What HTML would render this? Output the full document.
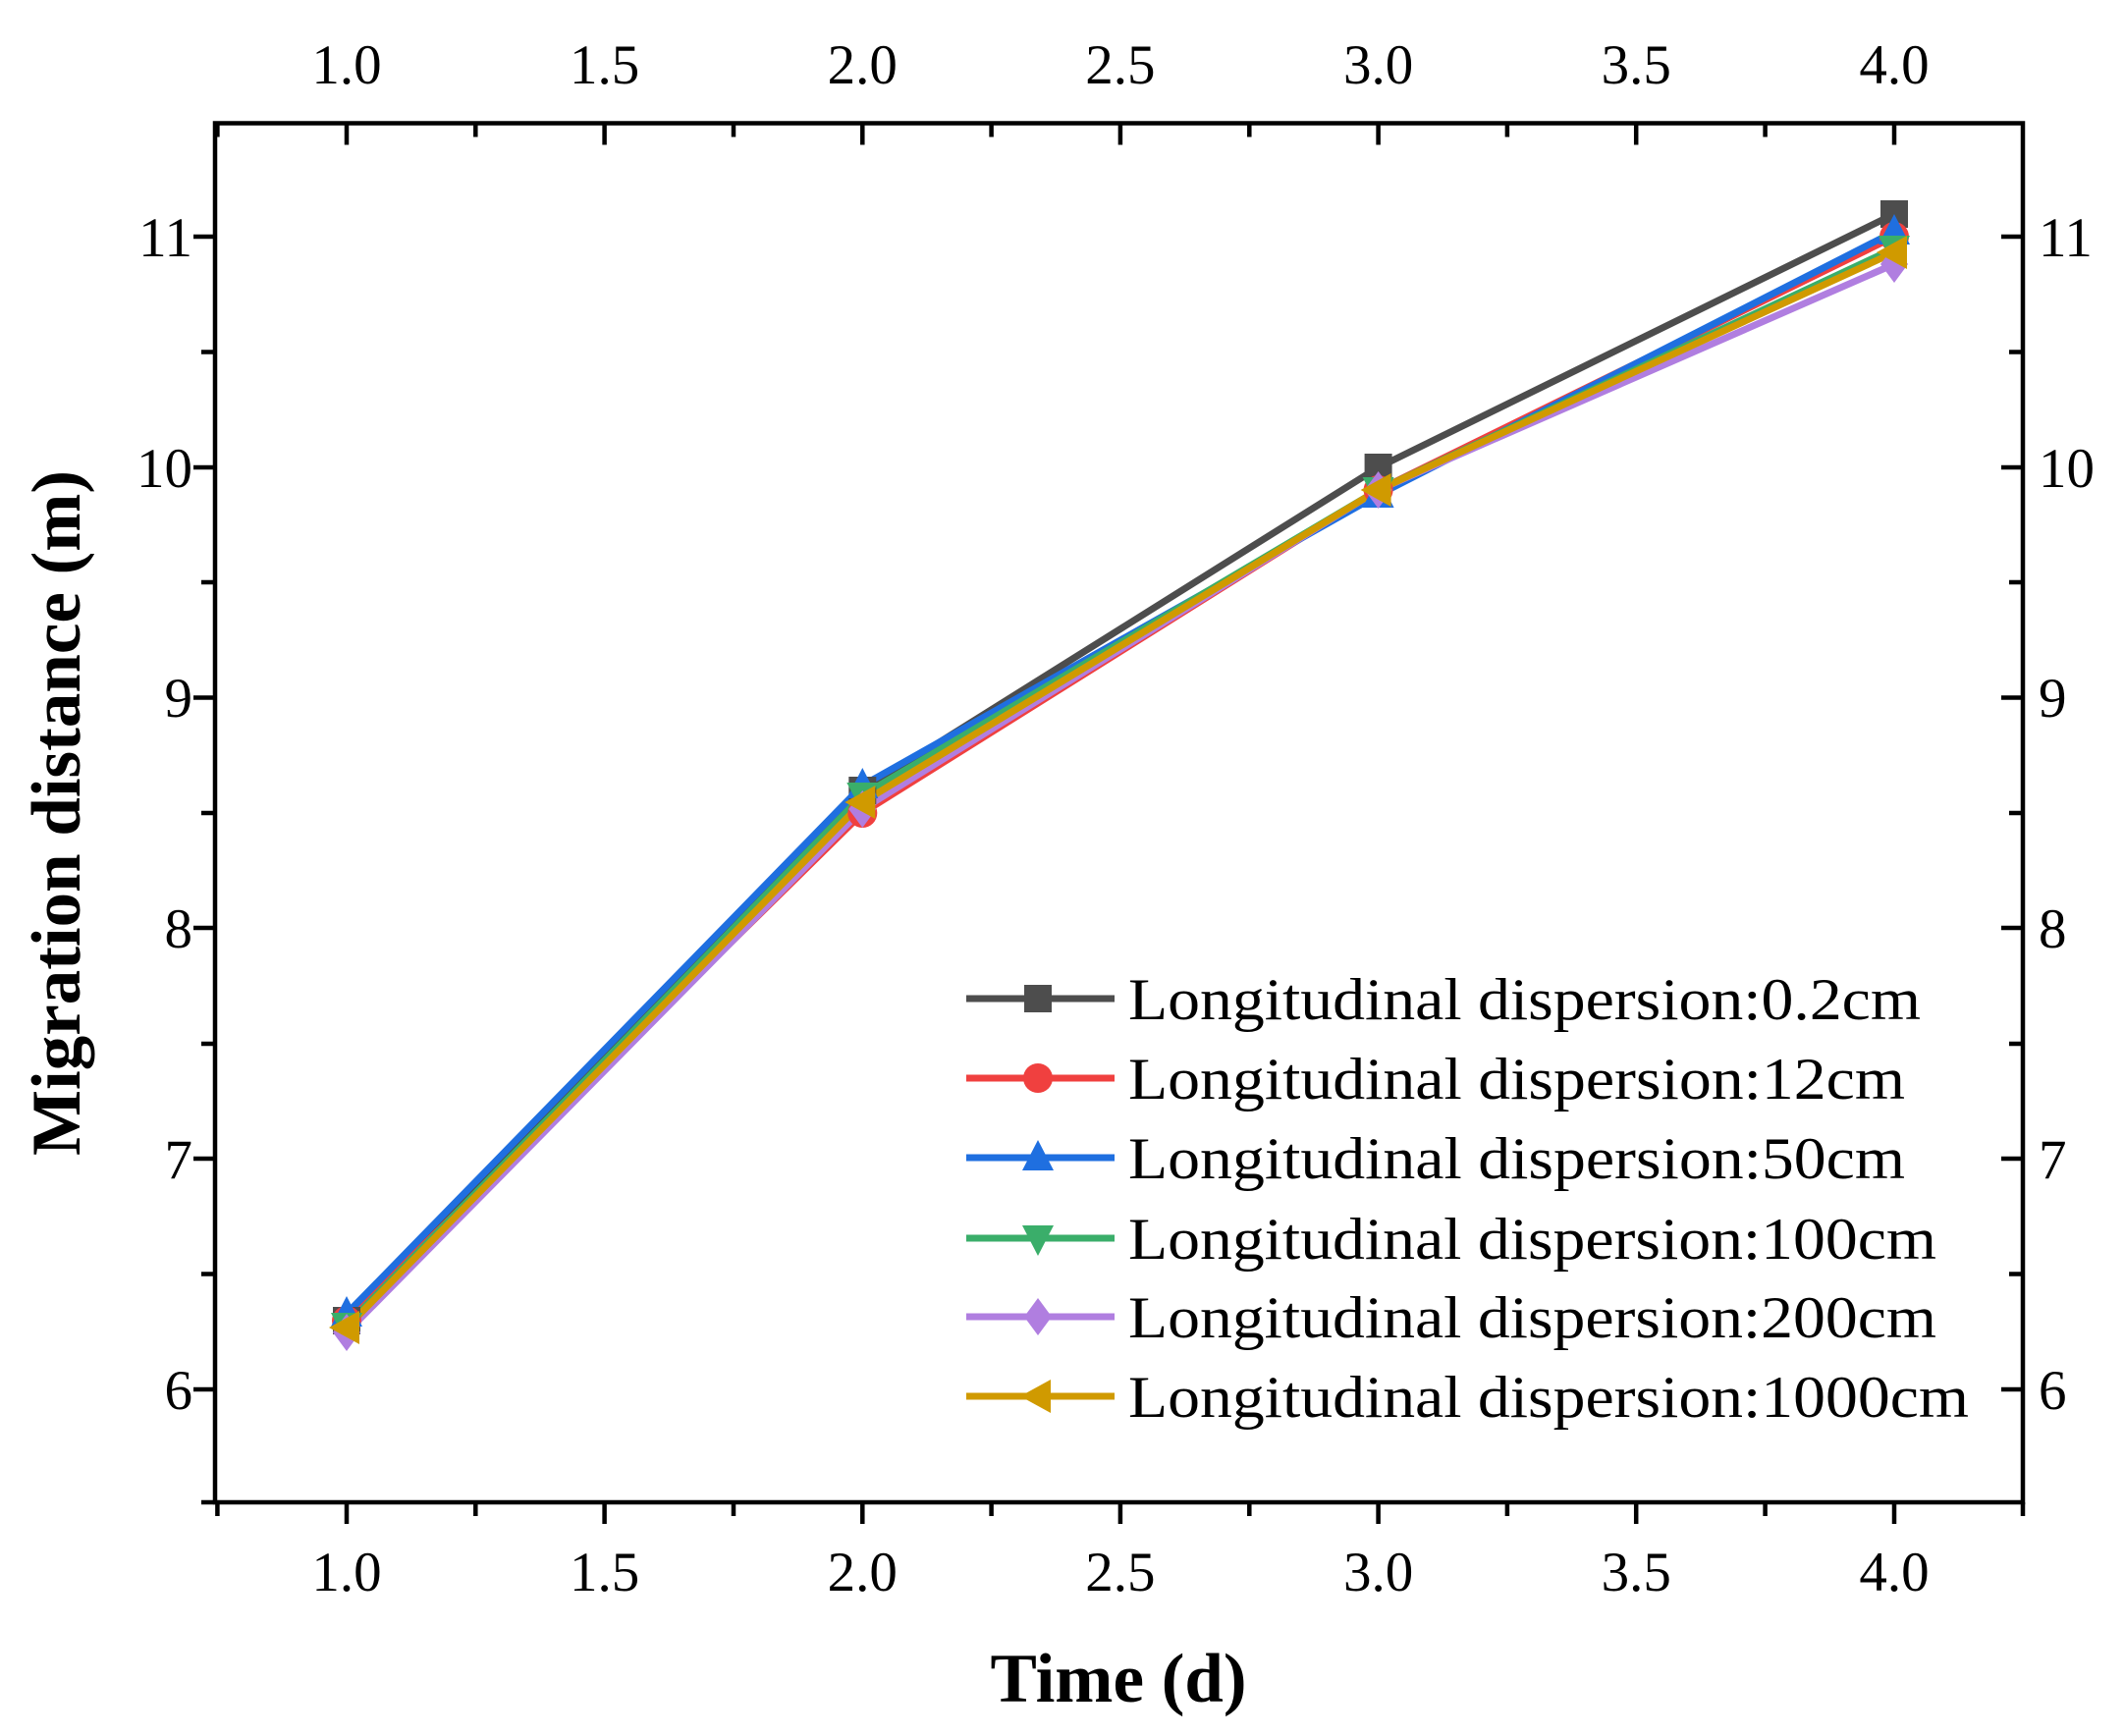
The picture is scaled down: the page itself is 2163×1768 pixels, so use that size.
<!DOCTYPE html>
<html><head><meta charset="utf-8"><style>html,body{margin:0;padding:0;background:#fff}svg{display:block}</style></head>
<body>
<svg width="2163" height="1768" viewBox="0 0 2163 1768" xmlns="http://www.w3.org/2000/svg" font-family="Liberation Serif, serif">
<rect width="2163" height="1768" fill="#fff"/>
<defs>
<clipPath id="c"><rect x="219" y="125" width="1841" height="1405"/></clipPath>
<g id="sq"><rect x="-14" y="-14" width="28" height="28"/></g>
<g id="ci"><circle r="15"/></g>
<g id="tu"><polygon points="0,-18 16,13 -16,13"/></g>
<g id="td"><polygon points="0,18 16,-13 -16,-13"/></g>
<g id="di"><polygon points="0,-19 14,0 0,19 -14,0"/></g>
<g id="tl"><polygon points="-18,0 13,-17 13,17"/></g>
</defs>
<g stroke="#000" stroke-width="4.5" fill="none">
<rect x="219" y="125.5" width="1841" height="1404.5"/>
</g>
<g stroke="#000" stroke-width="4.5">
<path d="M353,1530v22M615.6,1530v22M878.3,1530v22M1140.9,1530v22M1403.6,1530v22M1666.2,1530v22M1929,1530v22"/>
<path d="M353,125.5v22M615.6,125.5v22M878.3,125.5v22M1140.9,125.5v22M1403.6,125.5v22M1666.2,125.5v22M1929,125.5v22"/>
<path d="M221.4,1530v14M484.3,1530v14M747,1530v14M1009.6,1530v14M1272.3,1530v14M1534.9,1530v14M1797.6,1530v14M2060,1530v14"/>
<path d="M221.4,125.5v14M484.3,125.5v14M747,125.5v14M1009.6,125.5v14M1272.3,125.5v14M1534.9,125.5v14M1797.6,125.5v14"/>
<path d="M219,241h-22M219,476h-22M219,710.5h-22M219,945h-22M219,1180h-22M219,1415h-22"/>
<path d="M2060,241h-22M2060,476h-22M2060,710.5h-22M2060,945h-22M2060,1180h-22M2060,1415h-22"/>
<path d="M219,358.5h-14M219,593h-14M219,828h-14M219,1063h-14M219,1297.5h-14M219,1530h-14"/>
<path d="M2060,358.5h-14M2060,593h-14M2060,828h-14M2060,1063h-14M2060,1297.5h-14"/>
</g>
<g font-size="57" fill="#000" text-anchor="middle">
<text x="353" y="1620">1.0</text><text x="615.6" y="1620">1.5</text><text x="878.3" y="1620">2.0</text><text x="1140.9" y="1620">2.5</text><text x="1403.6" y="1620">3.0</text><text x="1666.2" y="1620">3.5</text><text x="1929" y="1620">4.0</text>
<text x="353" y="85">1.0</text><text x="615.6" y="85">1.5</text><text x="878.3" y="85">2.0</text><text x="1140.9" y="85">2.5</text><text x="1403.6" y="85">3.0</text><text x="1666.2" y="85">3.5</text><text x="1929" y="85">4.0</text>
</g>
<g font-size="57" fill="#000" text-anchor="end">
<text x="196" y="261">11</text><text x="196" y="496">10</text><text x="196" y="730">9</text><text x="196" y="965">8</text><text x="196" y="1200">7</text><text x="196" y="1435">6</text>
</g>
<g font-size="57" fill="#000" text-anchor="start">
<text x="2076" y="261">11</text><text x="2076" y="496">10</text><text x="2076" y="730">9</text><text x="2076" y="965">8</text><text x="2076" y="1200">7</text><text x="2076" y="1435">6</text>
</g>
<text x="1139" y="1733" font-size="71" font-weight="bold" text-anchor="middle">Time (d)</text>
<text transform="translate(81,828) rotate(-90)" font-size="71" font-weight="bold" text-anchor="middle">Migration distance (m)</text>
<g clip-path="url(#c)" fill="none" stroke-width="7" stroke-linejoin="round">
<polyline stroke="#4d4d4d" points="353,1345 878.3,805 1403.6,476 1929,218"/>
<polyline stroke="#f0403f" points="353,1345 878.3,828 1403.6,499 1929,241"/>
<polyline stroke="#1f6fe0" points="353,1338 878.3,800 1403.6,504 1929,236"/>
<polyline stroke="#3aae6a" points="353,1350 878.3,810 1403.6,499 1929,253"/>
<polyline stroke="#b07ee0" points="353,1357 878.3,824 1403.6,499 1929,269"/>
<polyline stroke="#d09a00" points="353,1352 878.3,817 1403.6,499 1929,257"/>
</g>
<g fill="#4d4d4d"><use href="#sq" x="353" y="1345"/><use href="#sq" x="878.3" y="805"/><use href="#sq" x="1403.6" y="476"/><use href="#sq" x="1929" y="218"/></g>
<g fill="#f0403f"><use href="#ci" x="353" y="1345"/><use href="#ci" x="878.3" y="828"/><use href="#ci" x="1403.6" y="499"/><use href="#ci" x="1929" y="241"/></g>
<g fill="#1f6fe0"><use href="#tu" x="353" y="1338"/><use href="#tu" x="878.3" y="800"/><use href="#tu" x="1403.6" y="504"/><use href="#tu" x="1929" y="236"/></g>
<g fill="#3aae6a"><use href="#td" x="353" y="1350"/><use href="#td" x="878.3" y="810"/><use href="#td" x="1403.6" y="499"/><use href="#td" x="1929" y="253"/></g>
<g fill="#b07ee0"><use href="#di" x="353" y="1357"/><use href="#di" x="878.3" y="824"/><use href="#di" x="1403.6" y="499"/><use href="#di" x="1929" y="269"/></g>
<g fill="#d09a00"><use href="#tl" x="353" y="1352"/><use href="#tl" x="878.3" y="817"/><use href="#tl" x="1403.6" y="499"/><use href="#tl" x="1929" y="257"/></g>
<g stroke-width="7">
<line x1="984" y1="1017" x2="1135" y2="1017" stroke="#4d4d4d"/>
<line x1="984" y1="1098" x2="1135" y2="1098" stroke="#f0403f"/>
<line x1="984" y1="1179" x2="1135" y2="1179" stroke="#1f6fe0"/>
<line x1="984" y1="1261" x2="1135" y2="1261" stroke="#3aae6a"/>
<line x1="984" y1="1341" x2="1135" y2="1341" stroke="#b07ee0"/>
<line x1="984" y1="1422" x2="1135" y2="1422" stroke="#d09a00"/>
</g>
<use href="#sq" x="1057" y="1017" fill="#4d4d4d"/>
<use href="#ci" x="1057" y="1098" fill="#f0403f"/>
<use href="#tu" x="1057" y="1179" fill="#1f6fe0"/>
<use href="#td" x="1057" y="1261" fill="#3aae6a"/>
<use href="#di" x="1057" y="1341" fill="#b07ee0"/>
<use href="#tl" x="1057" y="1422" fill="#d09a00"/>
<g font-size="60" fill="#000">
<text x="1149" y="1038" textLength="807" lengthAdjust="spacingAndGlyphs">Longitudinal dispersion:0.2cm</text>
<text x="1149" y="1119" textLength="791" lengthAdjust="spacingAndGlyphs">Longitudinal dispersion:12cm</text>
<text x="1149" y="1200" textLength="791" lengthAdjust="spacingAndGlyphs">Longitudinal dispersion:50cm</text>
<text x="1149" y="1282" textLength="823" lengthAdjust="spacingAndGlyphs">Longitudinal dispersion:100cm</text>
<text x="1149" y="1362" textLength="823" lengthAdjust="spacingAndGlyphs">Longitudinal dispersion:200cm</text>
<text x="1149" y="1443" textLength="856" lengthAdjust="spacingAndGlyphs">Longitudinal dispersion:1000cm</text>
</g>
</svg>
</body></html>
